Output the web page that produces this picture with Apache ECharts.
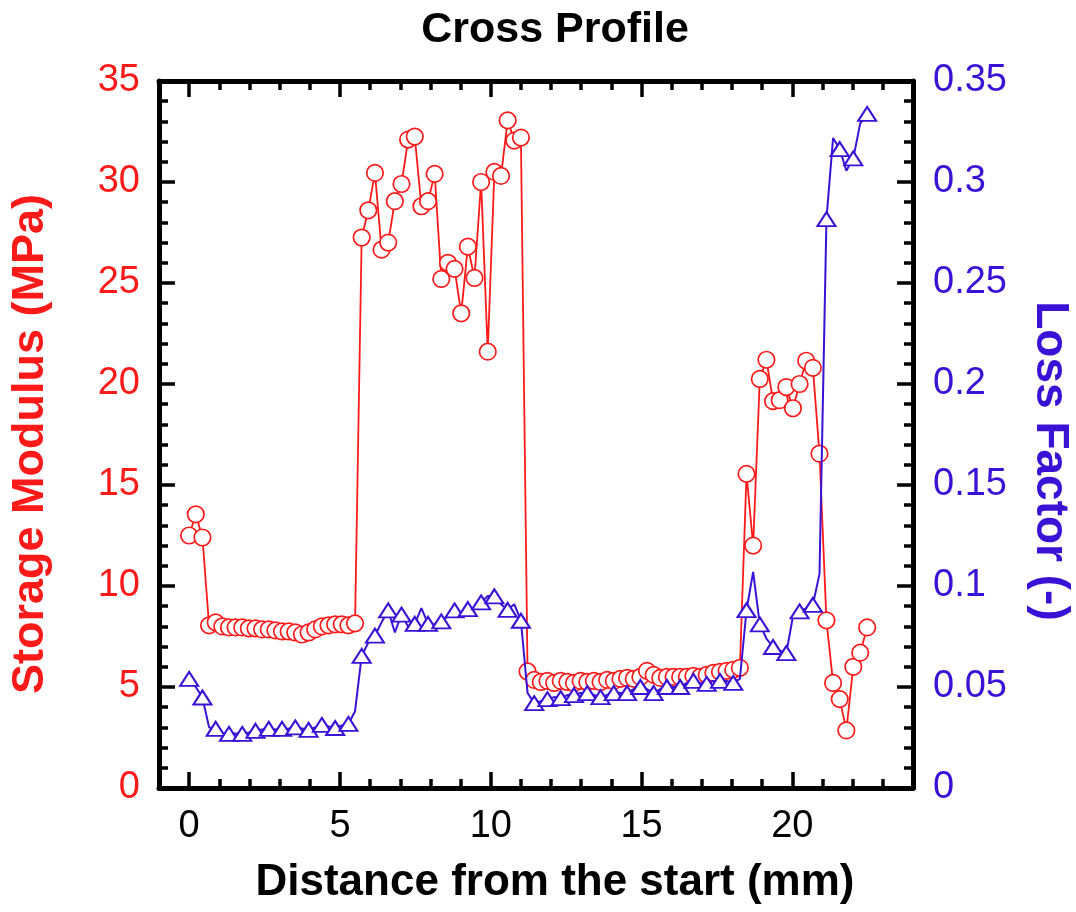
<!DOCTYPE html>
<html>
<head>
<meta charset="utf-8">
<title>Cross Profile</title>
<script src="https://cdn.jsdelivr.net/npm/echarts@6/dist/echarts.min.js"></script>
<style>
  html, body { margin: 0; padding: 0; background: #fff; }
  #chart { width: 1076px; height: 912px; }
</style>
</head>
<body>
<div id="chart"></div>
<script>
// Measurement positions along the cross section (mm)
const distance = [
  0, 0.22, 0.44, 0.66, 0.88, 1.1, 1.32, 1.54, 1.76, 1.98,
  2.2, 2.42, 2.64, 2.86, 3.08, 3.3, 3.52, 3.74, 3.96, 4.18,
  4.4, 4.62, 4.84, 5.06, 5.28, 5.5, 5.72, 5.94, 6.16, 6.38,
  6.6, 6.82, 7.04, 7.26, 7.48, 7.7, 7.92, 8.14, 8.36, 8.58,
  8.8, 9.02, 9.24, 9.46, 9.68, 9.9, 10.12, 10.34, 10.56, 10.78,
  11, 11.22, 11.44, 11.66, 11.88, 12.1, 12.32, 12.54, 12.76, 12.98,
  13.2, 13.42, 13.64, 13.86, 14.08, 14.3, 14.52, 14.74, 14.96, 15.18,
  15.4, 15.62, 15.84, 16.06, 16.28, 16.5, 16.72, 16.94, 17.16, 17.38,
  17.6, 17.82, 18.04, 18.26, 18.48, 18.7, 18.92, 19.14, 19.36, 19.58,
  19.8, 20.02, 20.24, 20.46, 20.68, 20.9, 21.13, 21.35, 21.57, 21.79,
  22.02, 22.25, 22.48
];

// Storage modulus (MPa)
const storageModulus = [
  12.5, 13.55, 12.4, 8.05, 8.2, 8.0, 7.95, 7.95, 7.95, 7.9,
  7.9, 7.85, 7.85, 7.8, 7.75, 7.75, 7.7, 7.6, 7.7, 7.85,
  8.0, 8.05, 8.1, 8.1, 8.05, 8.15, 27.25, 28.6, 30.45, 26.65,
  27.0, 29.05, 29.9, 32.1, 32.25, 28.8, 29.05, 30.4, 25.2, 26.0,
  25.7, 23.5, 26.8, 25.25, 30.0, 21.6, 30.5, 30.3, 33.05, 32.05,
  32.2, 5.77, 5.35, 5.25, 5.3, 5.2, 5.3, 5.25, 5.2, 5.3,
  5.25, 5.3, 5.25, 5.35, 5.3, 5.4, 5.45, 5.4, 5.5, 5.8,
  5.6, 5.45, 5.5, 5.5, 5.5, 5.5, 5.55, 5.5, 5.6, 5.7,
  5.75, 5.8, 5.85, 5.95, 15.55, 12.0, 20.25, 21.2, 19.15, 19.2,
  19.85, 18.8, 20.0, 21.15, 20.8, 16.55, 8.3, 5.2, 4.4, 2.85,
  6.0, 6.7, 7.95
];

// Loss factor (-)
const lossFactor = [
  0.054, 0.05, 0.0448, 0.030, 0.0293, 0.027, 0.0268, 0.027, 0.0268, 0.0275,
  0.0283, 0.029, 0.0293, 0.029, 0.0293, 0.0295, 0.030, 0.0295, 0.0288, 0.030,
  0.0312, 0.0305, 0.0297, 0.031, 0.0317, 0.038, 0.0654, 0.072, 0.0754, 0.082,
  0.0879, 0.077, 0.0858, 0.080, 0.0813, 0.089, 0.0813, 0.081, 0.0825, 0.085,
  0.0879, 0.087, 0.0886, 0.089, 0.0919, 0.095, 0.0949, 0.091, 0.0882, 0.091,
  0.0828, 0.047, 0.042, 0.043, 0.044, 0.045, 0.0445, 0.046, 0.046, 0.047,
  0.047, 0.046, 0.045, 0.046, 0.047, 0.047, 0.047, 0.049, 0.050, 0.049,
  0.047, 0.049, 0.050, 0.050, 0.050, 0.052, 0.053, 0.052, 0.0515, 0.053,
  0.053, 0.053, 0.052, 0.054, 0.088, 0.107, 0.081, 0.074, 0.0698, 0.068,
  0.0668, 0.085, 0.0874, 0.089, 0.0907, 0.106, 0.2816, 0.3218, 0.3163, 0.3056,
  0.3117, 0.329, 0.3337
];

// Axis tick positions (mm)
const xMajorTicks = [0, 5, 10, 15, 20];
const xMinorTicks = [-1, 0, 1, 2, 3, 4, 5, 6, 7, 8, 9, 10, 11, 12, 13, 14, 15, 16, 17, 18, 19, 20, 21, 22, 23, 24];

const RED = '#ff1a1a';
const BLUE = '#3a12d6';
const FONT = '"Liberation Sans", Arial, Helvetica, sans-serif';

const chart = echarts.init(document.getElementById('chart'), null, { renderer: 'canvas' });

const modulusData = distance.map((d, i) => [d, storageModulus[i]]);
// Triangles are placed on every other sample; the line runs through all of them
const lossData = distance.map((d, i) => ({
  value: [d, lossFactor[i]],
  symbol: i % 2 === 0 ? 'triangle' : 'none'
}));

function xAxisDef(position, ticks, tickLen, withLine, withLabels) {
  return {
    type: 'value',
    position: position,
    min: -1,
    max: 24,
    axisLine: { show: withLine, onZero: false, lineStyle: { color: '#000', width: 5 } },
    axisTick: {
      show: true, inside: true, length: tickLen, customValues: ticks,
      lineStyle: { color: '#000', width: 3.5 }
    },
    axisLabel: withLabels ? {
      show: true, customValues: xMajorTicks, margin: 20,
      color: '#000', fontSize: 38, fontFamily: FONT
    } : { show: false },
    splitLine: { show: false }
  };
}

const option = {
  animation: false,
  backgroundColor: '#fff',
  grid: { left: 159, right: 163, top: 81, bottom: 124, containLabel: false },
  xAxis: [
    xAxisDef('bottom', xMajorTicks, 16, true, true),
    xAxisDef('bottom', xMinorTicks, 9, false, false),
    xAxisDef('top', xMajorTicks, 16, true, false),
    xAxisDef('top', xMinorTicks, 9, false, false)
  ],
  yAxis: [
    {
      type: 'value', position: 'left', min: 0, max: 35, interval: 5,
      axisLine: { show: true, onZero: false, lineStyle: { color: '#000', width: 5 } },
      axisTick: { show: true, inside: true, length: 16, lineStyle: { color: '#000', width: 3.5 } },
      minorTick: { show: true, splitNumber: 5, length: 9, lineStyle: { color: '#000', width: 3.5 } },
      axisLabel: { color: RED, fontSize: 38, fontFamily: FONT, margin: 19 },
      splitLine: { show: false }
    },
    {
      type: 'value', position: 'right', min: 0, max: 0.35, interval: 0.05,
      axisLine: { show: true, onZero: false, lineStyle: { color: '#000', width: 5 } },
      axisTick: { show: true, inside: true, length: 16, lineStyle: { color: '#000', width: 3.5 } },
      minorTick: { show: true, splitNumber: 5, length: 9, lineStyle: { color: '#000', width: 3.5 } },
      axisLabel: { color: BLUE, fontSize: 38, fontFamily: FONT, margin: 20 },
      splitLine: { show: false }
    }
  ],
  graphic: [
    {
      type: 'text', x: 555, y: 30,
      style: {
        text: 'Cross Profile', fill: '#000', font: 'bold 43px ' + FONT,
        textAlign: 'center', textVerticalAlign: 'middle'
      }
    },
    {
      type: 'text', x: 555, y: 883,
      style: {
        text: 'Distance from the start (mm)', fill: '#000', font: 'bold 44px ' + FONT,
        textAlign: 'center', textVerticalAlign: 'middle'
      }
    },
    {
      type: 'text', x: 31, y: 444, rotation: Math.PI / 2,
      style: {
        text: 'Storage Modulus (MPa)', fill: RED, font: 'bold 45px ' + FONT,
        textAlign: 'center', textVerticalAlign: 'middle'
      }
    },
    {
      type: 'text', x: 1050, y: 461, rotation: -Math.PI / 2,
      style: {
        text: 'Loss Factor (-)', fill: BLUE, font: 'bold 46px ' + FONT,
        textAlign: 'center', textVerticalAlign: 'middle'
      }
    }
  ],
  series: [
    {
      name: 'Storage Modulus',
      type: 'line',
      xAxisIndex: 0,
      yAxisIndex: 0,
      data: modulusData,
      symbol: 'circle',
      symbolSize: 16.5,
      showAllSymbol: true,
      lineStyle: { color: RED, width: 1.8 },
      itemStyle: { color: '#fff', borderColor: RED, borderWidth: 1.7 },
      z: 2
    },
    {
      name: 'Loss Factor',
      type: 'line',
      xAxisIndex: 0,
      yAxisIndex: 1,
      data: lossData,
      symbolSize: [18, 14],
      showAllSymbol: true,
      lineStyle: { color: BLUE, width: 2 },
      itemStyle: { color: '#fff', borderColor: BLUE, borderWidth: 2 },
      z: 3
    }
  ]
};

chart.setOption(option);
</script>
</body>
</html>
